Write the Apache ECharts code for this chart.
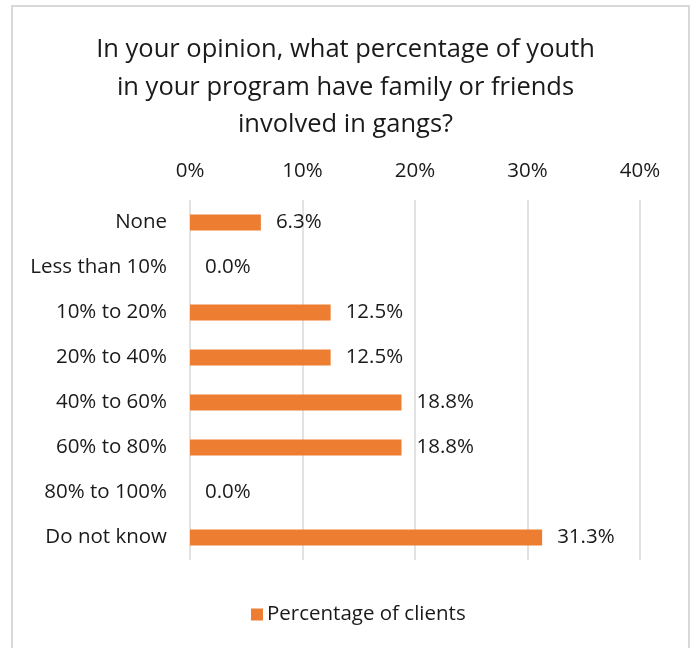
<!DOCTYPE html>
<html>
<head>
<meta charset="utf-8">
<script src="https://cdn.jsdelivr.net/npm/echarts@6/dist/echarts.min.js"></script>
<style>
  html, body { margin: 0; padding: 0; background: #fff; }
  #chart { width: 691px; height: 648px; }
</style>
</head>
<body>
<div id="chart"></div>
<script>
// Survey answers, top to bottom
const categories = ['None', 'Less than 10%', '10% to 20%', '20% to 40%', '40% to 60%', '60% to 80%', '80% to 100%', 'Do not know'];
// Share of clients per answer, in percent
const shares = [6.3, 0.0, 12.5, 12.5, 18.8, 18.8, 0.0, 31.3];
const axisTicks = [0, 10, 20, 30, 40];
const seriesName = 'Percentage of clients';
const titleText = 'In your opinion, what percentage of youth\nin your program have family or friends\ninvolved in gangs?';

const FONT = '"Open Sans"';
const LABEL_SIZE = 20.5;
const TEXT_COLOR = '#1a1a1a';
const chart = echarts.init(document.getElementById('chart'), null, { renderer: 'canvas' });

chart.setOption({
  backgroundColor: '#ffffff',
  animation: false,
  textStyle: { fontFamily: FONT },
  title: {
    text: titleText,
    left: 'center',
    top: 26,
    textStyle: { fontFamily: FONT, fontSize: 25.5, fontWeight: 'normal', color: TEXT_COLOR, lineHeight: 37.5 }
  },
  graphic: [{
    type: 'rect',
    shape: { x: 12, y: 6, width: 677, height: 700 },
    style: { fill: 'none', stroke: '#d9d9d9', lineWidth: 2 },
    silent: true
  }],
  grid: { left: 190, right: 51, top: 200, bottom: 88, containLabel: false },
  legend: {
    bottom: 18,
    left: 246,
    itemWidth: 12,
    itemHeight: 12,
    icon: 'rect',
    textStyle: { fontFamily: FONT, fontSize: LABEL_SIZE, color: TEXT_COLOR, padding: [0, 0, 0, -1] },
    data: [seriesName]
  },
  xAxis: {
    type: 'value',
    position: 'top',
    min: axisTicks[0],
    max: axisTicks[axisTicks.length - 1],
    interval: axisTicks[1] - axisTicks[0],
    axisLine: { show: false },
    axisTick: { show: false },
    axisLabel: { formatter: v => v + '%', fontFamily: FONT, fontSize: LABEL_SIZE, color: TEXT_COLOR, margin: 18 },
    splitLine: { show: true, lineStyle: { color: '#d9d9d9', width: 1.5 } }
  },
  yAxis: {
    type: 'category',
    inverse: true,
    data: categories,
    axisLine: { show: false },
    axisTick: { show: false },
    axisLabel: { fontFamily: FONT, fontSize: LABEL_SIZE, color: TEXT_COLOR, margin: 23 }
  },
  series: [{
    name: seriesName,
    type: 'bar',
    data: shares,
    barWidth: 16,
    itemStyle: { color: '#ED7D31' },
    label: {
      show: true,
      position: 'right',
      distance: 15,
      formatter: p => p.value.toFixed(1) + '%',
      fontFamily: FONT,
      fontSize: LABEL_SIZE,
      color: TEXT_COLOR
    }
  }]
});
</script>
</body>
</html>
